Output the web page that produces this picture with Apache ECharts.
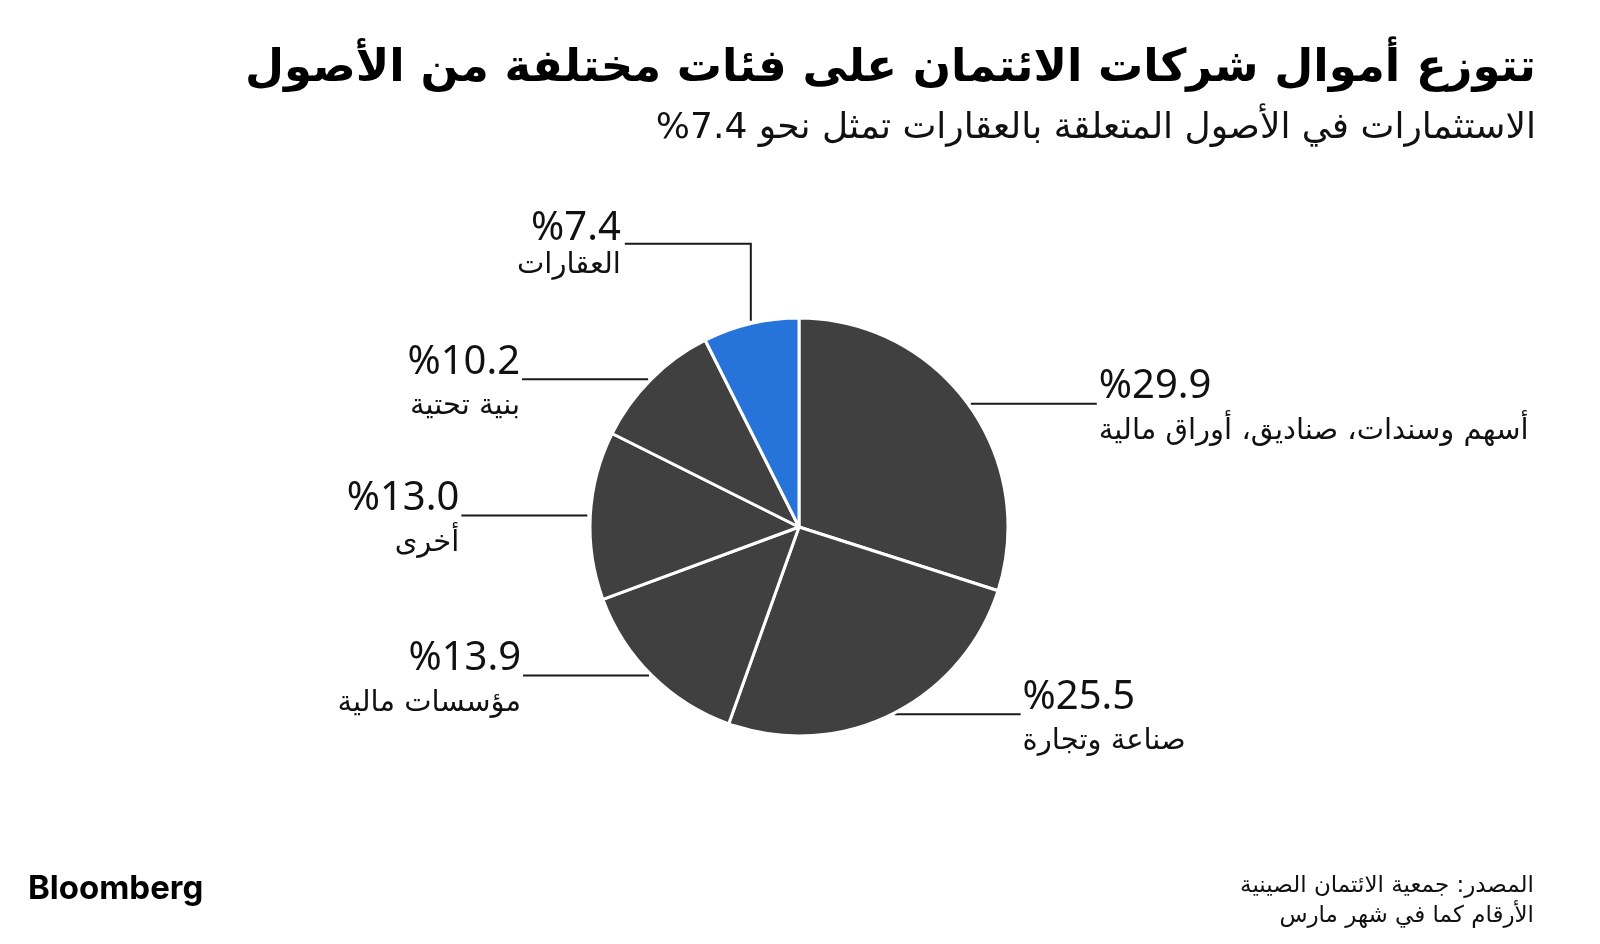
<!DOCTYPE html>
<html>
<head>
<meta charset="utf-8">
<script src="https://cdn.jsdelivr.net/npm/echarts@6/dist/echarts.min.js"></script>
<style>
  html, body { margin: 0; padding: 0; background: #ffffff; }
  #chart { width: 1600px; height: 944px; }
</style>
</head>
<body>
<div id="chart"></div>
<script>
// ---- data ----
const categories = ['أسهم وسندات، صناديق، أوراق مالية', 'صناعة وتجارة', 'مؤسسات مالية', 'أخرى', 'بنية تحتية', 'العقارات'];
const shares = [29.9, 25.5, 13.9, 13.0, 10.2, 7.4];
const highlightCategory = 'العقارات';

const titleText = 'تتوزع أموال شركات الائتمان على فئات مختلفة من الأصول';
const subtitleText = '%7.4 الاستثمارات في الأصول المتعلقة بالعقارات تمثل نحو';
const sourceLines = ['المصدر: جمعية الائتمان الصينية', 'الأرقام كما في شهر مارس'];
const brandText = 'Bloomberg';

// ---- styles ----
const DARK = '#404040';
const BLUE = '#2673da';
const CX = 799, CY = 527, R = 209;
const LINE_LEN = 126;
const LINE_GAP = 3;
const ARABIC_FONT = "'DejaVu Sans', 'Noto Sans', sans-serif";
const NUM_FONT = "'Noto Sans', 'Open Sans', sans-serif";

const chart = echarts.init(document.getElementById('chart'), null, { renderer: 'canvas' });

const pieData = categories.map((c, i) => {
  const item = {
    name: c,
    value: shares[i],
    itemStyle: { color: c === highlightCategory ? BLUE : DARK }
  };
  if (c === highlightCategory) {
    item.label = { rich: { n: { lineHeight: 30 } } };
  }
  return item;
});

const sourceTitles = sourceLines.map((t, i) => ({
  text: t, right: 66, top: 875 + i * 30, padding: 0,
  textStyle: { fontFamily: ARABIC_FONT, fontWeight: 'normal', fontSize: 23, color: '#111' }
}));

chart.setOption({
  animation: false,
  backgroundColor: '#ffffff',
  title: [
    {
      text: titleText, right: 64, top: 47, padding: 0,
      textStyle: { fontFamily: ARABIC_FONT, fontWeight: 'bold', fontSize: 45, color: '#000' }
    },
    {
      text: subtitleText, right: 64, top: 111, padding: 0,
      textStyle: { fontFamily: ARABIC_FONT, fontWeight: 'normal', fontSize: 36, color: '#111' }
    },
    ...sourceTitles,
    {
      text: brandText, left: 28, top: 873, padding: 0,
      textStyle: { fontFamily: "Inter, 'Noto Sans', sans-serif", fontWeight: 'bold', fontSize: 33, color: '#000' }
    }
  ],
  series: [{
    type: 'pie',
    center: [CX, CY],
    radius: R,
    startAngle: 90,
    clockwise: true,
    avoidLabelOverlap: false,
    data: pieData,
    itemStyle: { borderColor: '#ffffff', borderWidth: 3 },
    emphasis: { disabled: true },
    label: {
      show: true,
      position: 'outside',
      formatter: p => '{v|%' + p.value.toFixed(1) + '}\n{n|' + p.name + '}',
      rich: {
        v: { fontFamily: NUM_FONT, fontSize: 40, lineHeight: 44, color: '#111' },
        n: { fontFamily: ARABIC_FONT, fontSize: 29, lineHeight: 45, color: '#111' }
      }
    },
    labelLine: {
      show: true, length: 10, length2: 10, smooth: false,
      lineStyle: { color: '#1a1a1a', width: 2 }
    },
    labelLayout: function (p) {
      const s = p.labelLinePoints[0];
      if (s[1] < CY - 0.9 * R) {
        const turnY = s[1] - 80;
        const endX = s[0] - LINE_LEN;
        return {
          x: endX - 4, y: turnY - 37, align: 'right', verticalAlign: 'top',
          labelLinePoints: [[s[0], s[1] - LINE_GAP], [s[0], turnY], [endX, turnY]]
        };
      }
      const right = s[0] > CX;
      const dir = right ? 1 : -1;
      const startX = s[0] + dir * LINE_GAP;
      const endX = startX + dir * LINE_LEN;
      return {
        x: endX + dir * 2, y: s[1] - 39,
        align: right ? 'left' : 'right', verticalAlign: 'top',
        labelLinePoints: [[startX, s[1]], [(startX + endX) / 2, s[1]], [endX, s[1]]]
      };
    }
  }]
});
</script>
</body>
</html>
